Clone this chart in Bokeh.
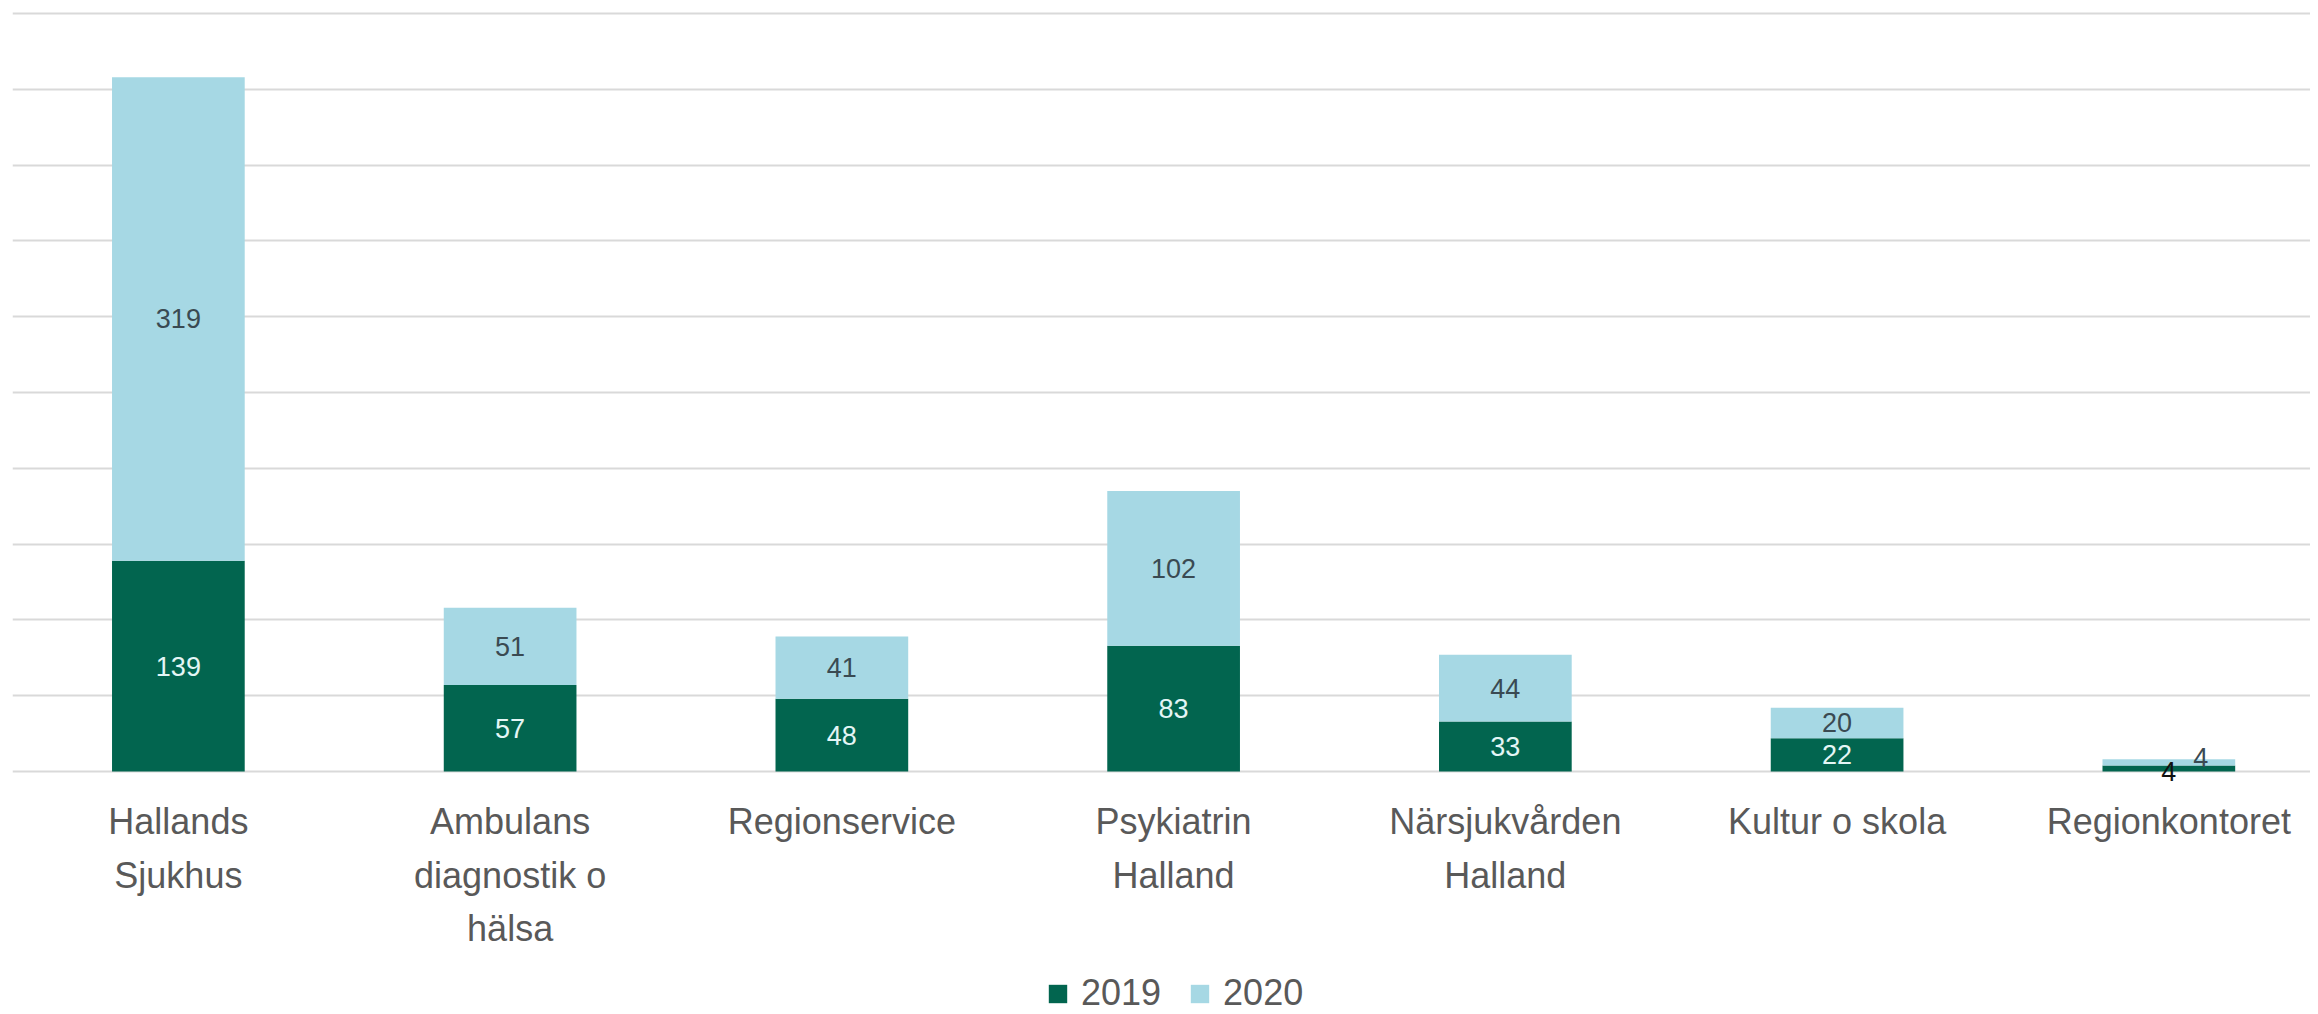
from bokeh.plotting import figure
from bokeh.models import ColumnDataSource, Range1d, FixedTicker, Legend, LegendItem
from bokeh.core.properties import value
from bokeh.embed import file_html
from bokeh.resources import INLINE

categories = ["Hallands\nSjukhus", "Ambulans\ndiagnostik o\nhälsa", "Regionservice",
              "Psykiatrin\nHalland", "Närsjukvården\nHalland", "Kultur o skola", "Regionkontoret"]
v2019 = [139, 57, 48, 83, 33, 22, 4]
v2020 = [319, 51, 41, 102, 44, 20, 4]
series = ["2019", "2020"]
grid_values = [0, 50, 100, 150, 200, 250, 300, 350, 400, 450, 500]

FONT = "Liberation Sans"
C2019 = "#02654f"
C2020 = "#a6d8e4"

n = len(categories)
xs = [i + 0.5 for i in range(n)]
src = ColumnDataSource(dict(x=xs, y2019=v2019, y2020=v2020))

# frame reaches to the bottom of the page; the area below 0 holds category labels + legend
p = figure(output_backend="svg", toolbar_location=None,
           frame_width=2298, frame_height=1004,
           x_range=Range1d(0, 6.927), y_range=Range1d(-160.3, 502.0),
           min_border_left=12, min_border_right=0, min_border_top=10, min_border_bottom=0)

r = p.vbar_stack(["y2019", "y2020"], x="x", width=0.4, color=[C2019, C2020],
                 line_color=None, source=src)

# value labels
lab_x, lab_y, lab_t, lab_c, lab_xo, lab_yo = [], [], [], [], [], []
for i in range(n):
    a, b = v2019[i], v2020[i]
    small = a < 10
    lab_x.append(xs[i]); lab_y.append(a / 2); lab_t.append(str(a))
    lab_c.append("#111111" if small else "#e4f6f6")
    lab_xo.append(0); lab_yo.append(3 if small else 0)
    lab_x.append(xs[i]); lab_y.append(a + b / 2); lab_t.append(str(b))
    lab_c.append("#3a4a52")
    lab_xo.append(32 if small else 0); lab_yo.append(-5 if small else 0)
lsrc = ColumnDataSource(dict(x=lab_x, y=lab_y, t=lab_t, c=lab_c, xo=lab_xo, yo=lab_yo))
p.text(x="x", y="y", text="t", text_color="c", x_offset="xo", y_offset="yo",
       text_font=value(FONT), text_font_size="27px", text_align="center",
       text_baseline="middle", source=lsrc)

# category labels under the baseline
csrc = ColumnDataSource(dict(x=xs, y=[0] * n, t=categories))
p.text(x="x", y="y", text="t", source=csrc, y_offset=30,
       text_font=value(FONT), text_font_size="36px", text_color="#595959",
       text_align="center", text_baseline="top", text_line_height=1.3)

p.xaxis.visible = False
p.yaxis.visible = False
p.xgrid.visible = False
p.ygrid.ticker = FixedTicker(ticks=grid_values)
p.ygrid.grid_line_color = "#d9d9d9"
p.ygrid.grid_line_width = 2
p.outline_line_color = None

legend = Legend(items=[LegendItem(label=series[0], renderers=[r[0]]),
                       LegendItem(label=series[1], renderers=[r[1]])],
                orientation="horizontal", location=(1034, 0),
                label_text_font=FONT, label_text_font_size="36px",
                label_text_color="#595959", label_text_line_height=1.0,
                glyph_width=23, glyph_height=23, label_standoff=12, spacing=27,
                border_line_color=None, background_fill_alpha=0,
                padding=0, margin=0)
p.add_layout(legend, "center")

open("out.html", "w").write(file_html(p, INLINE))
